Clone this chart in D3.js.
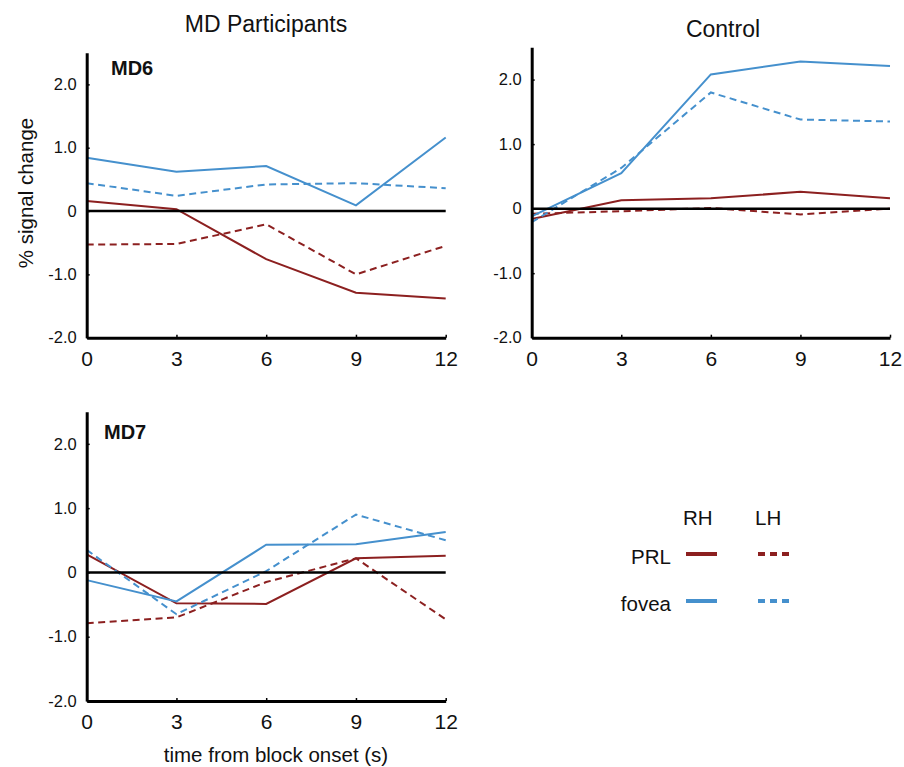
<!DOCTYPE html>
<html>
<head>
<meta charset="utf-8">
<script src="https://cdn.jsdelivr.net/npm/d3@7"></script>
<style>
  html, body { margin: 0; padding: 0; background: #fff; }
  svg text { font-family: "Liberation Sans", Arial, sans-serif; fill: #111; }
</style>
</head>
<body>
<svg id="chart" width="904" height="767"></svg>
<script>
// ---- data ----
const times = [0, 3, 6, 9, 12];
const yTickValues = [-2, -1, 0, 1, 2];
const yTickLabels = ["-2.0", "-1.0", "0", "1.0", "2.0"];
const xTickLabels = ["0", "3", "6", "9", "12"];

const md6_prl_rh   = [0.16, 0.03, -0.76, -1.29, -1.38];
const md6_prl_lh   = [-0.53, -0.52, -0.21, -1.00, -0.55];
const md6_fovea_rh = [0.84, 0.62, 0.71, 0.09, 1.16];
const md6_fovea_lh = [0.44, 0.24, 0.42, 0.44, 0.36];

const ctl_prl_rh   = [-0.16, 0.13, 0.16, 0.26, 0.16];
const ctl_prl_lh   = [-0.08, -0.04, 0.01, -0.09, 0.00];
const ctl_fovea_rh = [-0.12, 0.55, 2.08, 2.28, 2.21];
const ctl_fovea_lh = [-0.21, 0.63, 1.80, 1.38, 1.35];

const md7_prl_rh   = [0.28, -0.48, -0.49, 0.22, 0.26];
const md7_prl_lh   = [-0.79, -0.70, -0.15, 0.22, -0.73];
const md7_fovea_rh = [-0.12, -0.45, 0.43, 0.44, 0.63];
const md7_fovea_lh = [0.35, -0.65, 0.02, 0.90, 0.50];

const RED = "#8c2020";
const BLUE = "#4590cd";

const seriesStyle = [
  { key: "prl_rh", color: RED, dash: null },
  { key: "prl_lh", color: RED, dash: "7,4.5" },
  { key: "fovea_rh", color: BLUE, dash: null },
  { key: "fovea_lh", color: BLUE, dash: "7,4.5" }
];

const panels = [
  { label: "MD6", x0: 86.7, x1: 445.7, top: 52.7, bottom: 337.7, labelX: 111, labelY: 75,
    series: { prl_rh: md6_prl_rh, prl_lh: md6_prl_lh, fovea_rh: md6_fovea_rh, fovea_lh: md6_fovea_lh } },
  { label: null, x0: 531.7, x1: 890, top: 47.3, bottom: 337.7,
    series: { prl_rh: ctl_prl_rh, prl_lh: ctl_prl_lh, fovea_rh: ctl_fovea_rh, fovea_lh: ctl_fovea_lh } },
  { label: "MD7", x0: 86.7, x1: 445.7, top: 411.7, bottom: 701, labelX: 104, labelY: 439,
    series: { prl_rh: md7_prl_rh, prl_lh: md7_prl_lh, fovea_rh: md7_fovea_rh, fovea_lh: md7_fovea_lh } }
];

const svg = d3.select("#chart");

panels.forEach(p => {
  const x = d3.scaleLinear().domain([0, 12]).range([p.x0, p.x1]);
  const y = d3.scaleLinear().domain([-2, 2.5]).range([p.bottom, p.top]);
  const g = svg.append("g");

  // data lines
  const line = d3.line().x((d, i) => x(times[i])).y(d => y(d));
  seriesStyle.forEach(s => {
    g.append("path")
      .datum(p.series[s.key])
      .attr("d", line)
      .attr("fill", "none")
      .attr("stroke", s.color)
      .attr("stroke-width", 2)
      .attr("stroke-dasharray", s.dash);
  });

  // zero line
  g.append("line")
    .attr("x1", x(0)).attr("x2", x(12))
    .attr("y1", y(0)).attr("y2", y(0))
    .attr("stroke", "#000").attr("stroke-width", 2.5);

  // y axis
  const yAxis = d3.axisLeft(y).tickValues(yTickValues)
    .tickFormat((d, i) => yTickLabels[i])
    .tickSizeInner(-3).tickSizeOuter(0).tickPadding(10);
  const ya = g.append("g").attr("transform", `translate(${p.x0},0)`).call(yAxis);
  ya.select(".domain").attr("stroke", "#000").attr("stroke-width", 3);
  ya.selectAll(".tick line").attr("stroke", "#000").attr("stroke-width", 1.5);
  ya.selectAll(".tick text").style("font-size", "16.5px").attr("fill", "#111");

  // x axis
  const xAxis = d3.axisBottom(x).tickValues(times)
    .tickFormat((d, i) => xTickLabels[i])
    .tickSizeInner(-3).tickSizeOuter(0).tickPadding(13);
  const xa = g.append("g").attr("transform", `translate(0,${p.bottom})`).call(xAxis);
  xa.select(".domain").attr("stroke", "#000").attr("stroke-width", 3);
  xa.selectAll(".tick line").attr("stroke", "#000").attr("stroke-width", 1.5);
  xa.selectAll(".tick text").style("font-size", "21px").attr("fill", "#111");

  if (p.label) {
    g.append("text").attr("x", p.labelX).attr("y", p.labelY)
      .style("font-size", "20px").style("font-weight", "bold").text(p.label);
  }
});

// titles
svg.append("text").attr("x", 266).attr("y", 31.5).attr("text-anchor", "middle")
  .style("font-size", "23px").text("MD Participants");
svg.append("text").attr("x", 723).attr("y", 37).attr("text-anchor", "middle")
  .style("font-size", "23px").text("Control");

// axis titles
svg.append("text").attr("transform", "translate(33,193) rotate(-90)")
  .attr("text-anchor", "middle").style("font-size", "20.5px").text("% signal change");
svg.append("text").attr("x", 276).attr("y", 761.5).attr("text-anchor", "middle")
  .style("font-size", "20.5px").text("time from block onset (s)");

// legend
const legCols = ["RH", "LH"];
const legRows = ["PRL", "fovea"];
const legColX = [683, 755];
const legRowY = [554, 601];
const legColors = [RED, BLUE];
const legDash = [null, "7,5"];
legCols.forEach((c, i) => {
  svg.append("text").attr("x", legColX[i]).attr("y", 525)
    .style("font-size", "20.5px").text(c);
});
legRows.forEach((r, j) => {
  svg.append("text").attr("x", 671).attr("y", legRowY[j] + 10).attr("text-anchor", "end")
    .style("font-size", "20.5px").text(r);
  legCols.forEach((c, i) => {
    svg.append("line")
      .attr("x1", legColX[i] + 3).attr("x2", legColX[i] + 34)
      .attr("y1", legRowY[j]).attr("y2", legRowY[j])
      .attr("stroke", legColors[j]).attr("stroke-width", 4)
      .attr("stroke-dasharray", legDash[i]);
  });
});
</script>
</body>
</html>
